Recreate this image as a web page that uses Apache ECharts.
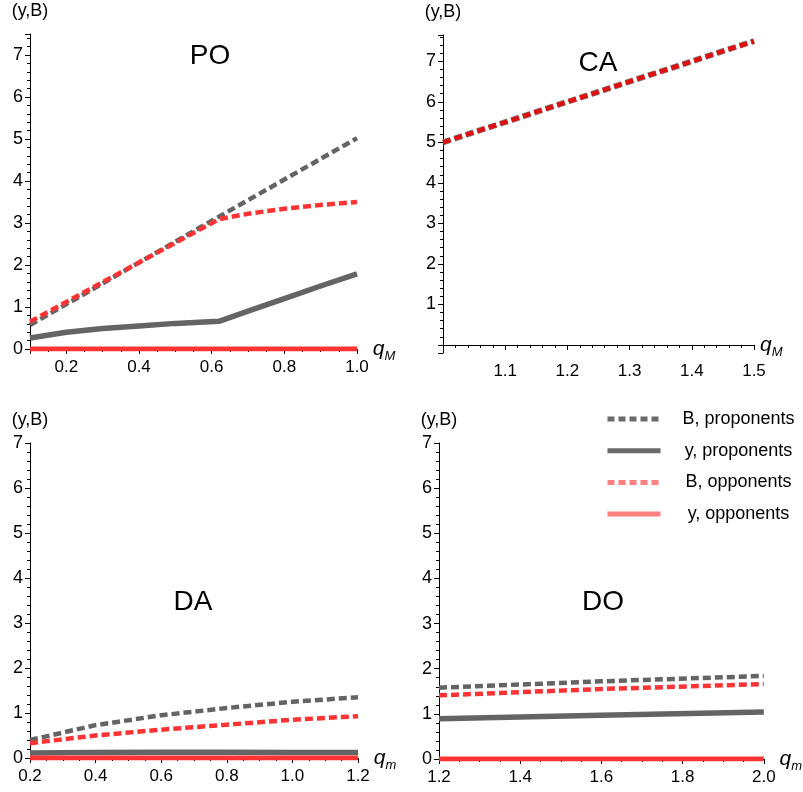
<!DOCTYPE html>
<html>
<head>
<meta charset="utf-8">
<script src="https://cdn.jsdelivr.net/npm/echarts@6/dist/echarts.min.js"></script>
<style>
html, body { margin: 0; padding: 0; background: #fff; }
#main { width: 803px; height: 792px; }
</style>
</head>
<body>
<div id="main"></div>
<script>
// series names (legend order)
const names = ["B, proponents", "y, proponents", "B, opponents", "y, opponents"];

// PO panel, x = q_M
const poBProp = [[0.1, 0.57], [0.62, 3.15], [1.0, 5.02]];
const poYProp = [[0.1, 0.26], [0.2, 0.4], [0.3, 0.49], [0.4, 0.55], [0.5, 0.61], [0.62, 0.66], [0.7, 0.9], [0.8, 1.2], [0.9, 1.5], [1.0, 1.79]];
const poBOpp = [[0.1, 0.65], [0.2, 1.12], [0.3, 1.59], [0.4, 2.06], [0.5, 2.53], [0.62, 3.09], [0.7, 3.22], [0.8, 3.34], [0.9, 3.43], [1.0, 3.5]];
const poYOpp = [[0.1, 0], [1.0, 0]];

// CA panel, x = q_M
const caBProp = [[1.0, 5.0], [1.5, 7.5]];
const caBOpp = [[1.0, 5.0], [1.5, 7.5]];

// DA panel, x = q_m
const daBProp = [[0.2, 0.4], [0.4, 0.73], [0.6, 0.95], [0.8, 1.11], [1.0, 1.25], [1.2, 1.35]];
const daYProp = [[0.2, 0.11], [0.4, 0.125], [0.6, 0.13], [0.8, 0.13], [1.0, 0.125], [1.2, 0.12]];
const daBOpp = [[0.2, 0.33], [0.4, 0.5], [0.6, 0.63], [0.8, 0.74], [1.0, 0.85], [1.2, 0.93]];
const daYOpp = [[0.2, 0], [1.2, 0]];

// DO panel, x = q_m
const doBProp = [[1.2, 1.58], [1.6, 1.72], [2.0, 1.84]];
const doYProp = [[1.2, 0.89], [1.6, 0.97], [2.0, 1.04]];
const doBOpp = [[1.2, 1.41], [1.6, 1.55], [2.0, 1.66]];
const doYOpp = [[1.2, 0], [2.0, 0]];

const panelTitles = ["PO", "CA", "DA", "DO"];

const GRAY = "#646464";
const RED = "#ff3333";
const FONT = "Liberation Sans";

let myChart = echarts.init(document.getElementById("main"));

function isMult(v, step) {
  let r = v / step;
  return Math.abs(r - Math.round(r)) < 1e-6;
}

// inside ticks do not show up here, so keep them short and outside
function ticks(split) {
  return {
    axisTick: { show: true, inside: false, length: 5, lineStyle: { color: "#000", width: 1 } },
    minorTick: { show: true, splitNumber: split, length: 3, lineStyle: { color: "#000", width: 1 } },
  };
}

function xAxisOf(i, min, max, sub, opts) {
  return Object.assign({
    type: "value",
    gridIndex: i,
    min: min,
    max: max,
    axisLine: { show: true, onZero: true, lineStyle: { color: "#000", width: 1 } },
    splitLine: { show: false },
    axisLabel: {
      color: "#000",
      fontSize: 17,
      fontFamily: FONT,
      margin: 10,
      formatter: function (v) { return v.toFixed(1); },
    },
    name: "{q|q}{s|" + sub + "}",
    nameLocation: "end",
    nameGap: 6,
    nameTextStyle: {
      rich: {
        q: { fontSize: 21, fontStyle: "italic", fontFamily: FONT, color: "#000", lineHeight: 22 },
        s: { fontSize: 13, fontStyle: "italic", fontFamily: FONT, color: "#000", lineHeight: 22, verticalAlign: "bottom", padding: [0, 0, -3, 0] },
      },
    },
  }, ticks(4), opts || {});
}

function yAxisOf(i, min, max, opts) {
  return Object.assign({
    type: "value",
    gridIndex: i,
    min: min,
    max: max,
    axisLine: { show: true, onZero: false, lineStyle: { color: "#000", width: 1 } },
    splitLine: { show: false },
    axisLabel: {
      color: "#000",
      fontSize: 18,
      fontFamily: FONT,
      margin: 7,
      formatter: function (v) { return isMult(v, 1) ? String(Math.round(v)) : ""; },
    },
    name: "(y,B)",
    nameLocation: "end",
    nameGap: 14,
    nameTextStyle: { color: "#000", fontSize: 18, fontFamily: FONT },
  }, ticks(5), opts || {});
}

function line(name, i, data, color, dashed, width) {
  return {
    name: name,
    type: "line",
    xAxisIndex: i,
    yAxisIndex: i,
    data: data,
    showSymbol: false,
    symbol: "none",
    smooth: false,
    silent: true,
    lineStyle: { color: color, width: width, type: dashed ? [8, 4] : "solid" },
    itemStyle: { color: color },
  };
}

let option = {
  animation: false,
  backgroundColor: "#fff",
  grid: [
    { left: 30, top: 34, width: 327, height: 315 },
    { left: 443, top: 35, width: 311, height: 318 },
    { left: 30, top: 443, width: 328, height: 315 },
    { left: 439, top: 443, width: 328, height: 316 },
  ],
  xAxis: [
    xAxisOf(0, 0.1, 1.0, "M", {
      splitNumber: 5,
      axisLabel: {
        color: "#000", fontSize: 17, fontFamily: FONT, margin: 10,
        formatter: function (v) { return isMult(v, 0.2) ? v.toFixed(1) : ""; },
      },
    }),
    xAxisOf(1, 1.0, 1.5, "M", Object.assign({
      interval: 0.1,
      axisLabel: {
        color: "#000", fontSize: 17, fontFamily: FONT, margin: 10,
        formatter: function (v) { return v > 1.05 ? v.toFixed(1) : ""; },
      },
    }, ticks(5))),
    xAxisOf(2, 0.2, 1.2, "m", { interval: 0.2 }),
    xAxisOf(3, 1.2, 2.0, "m", { interval: 0.2 }),
  ],
  yAxis: [
    yAxisOf(0, 0, 7.5, { interval: 1 }),
    yAxisOf(1, -0.2, 7.65, {
      splitNumber: 8,
      axisLabel: {
        color: "#000", fontSize: 18, fontFamily: FONT, margin: 7,
        formatter: function (v) { return isMult(v, 1) && v >= 1 ? String(Math.round(v)) : ""; },
      },
    }),
    yAxisOf(2, 0, 7, { interval: 1 }),
    yAxisOf(3, 0, 7, { interval: 1 }),
  ],
  legend: {
    orient: "vertical",
    left: 600,
    top: 405,
    itemWidth: 53,
    itemHeight: 14,
    itemGap: 13.7,
    selectedMode: false,
    itemStyle: { opacity: 0 },
    data: [
      { name: names[0], lineStyle: { color: "#6a6a6a", width: 5, type: [7, 4] } },
      { name: names[1], lineStyle: { color: "#6a6a6a", width: 5 } },
      { name: names[2], lineStyle: { color: "#ff8080", width: 5, type: [7, 4] } },
      { name: names[3], lineStyle: { color: "#ff8080", width: 5 } },
    ],
    formatter: function (name) { return "{a|" + name + "}"; },
    textStyle: {
      rich: { a: { width: 146, align: "center", fontSize: 18, fontFamily: FONT, color: "#000" } },
    },
  },
  graphic: panelTitles.map(function (t, k) {
    let pos = [[210, 56], [598, 63], [193, 602], [603, 602]][k];
    return {
      type: "text",
      x: pos[0],
      y: pos[1],
      silent: true,
      style: { text: t, fontSize: 28, fontFamily: FONT, fill: "#000", align: "center", verticalAlign: "middle" },
    };
  }),
  series: [
    line(names[0], 0, poBProp, GRAY, true, 4.5),
    line(names[1], 0, poYProp, GRAY, false, 5.5),
    line(names[2], 0, poBOpp, RED, true, 4.5),
    line(names[3], 0, poYOpp, RED, false, 5),

    line(names[0], 1, caBProp, "#808080", true, 6),
    line(names[2], 1, caBOpp, "#dd1111", true, 4.5),

    line(names[0], 2, daBProp, GRAY, true, 4.5),
    line(names[1], 2, daYProp, GRAY, false, 5.5),
    line(names[2], 2, daBOpp, RED, true, 4.5),
    line(names[3], 2, daYOpp, RED, false, 5),

    line(names[0], 3, doBProp, GRAY, true, 4.5),
    line(names[1], 3, doYProp, GRAY, false, 5.5),
    line(names[2], 3, doBOpp, RED, true, 4.5),
    line(names[3], 3, doYOpp, RED, false, 5),
  ],
};
myChart.setOption(option);
</script>
</body>
</html>
